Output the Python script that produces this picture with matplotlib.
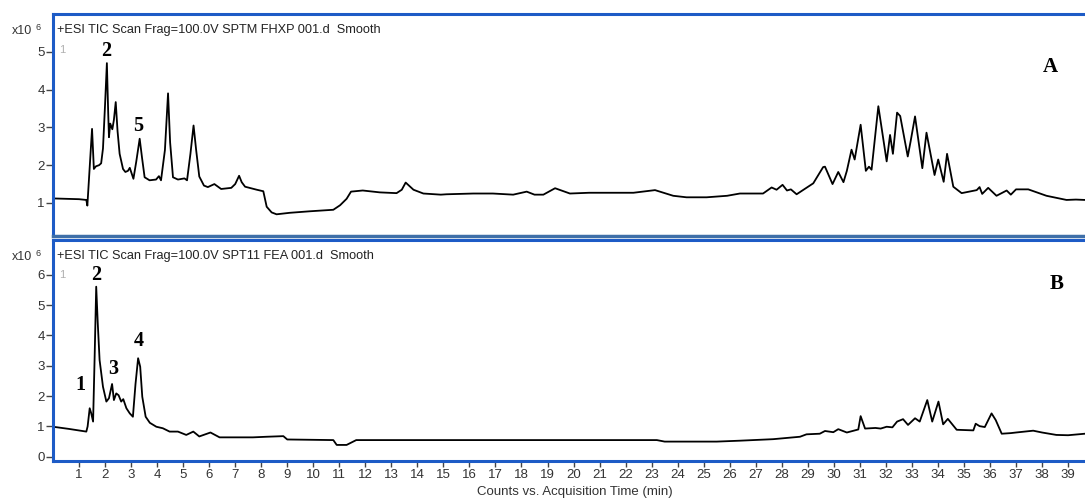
import numpy as np
import matplotlib
matplotlib.use('Agg')
import matplotlib.pyplot as plt

# chromatogram A (SPTM FHXP), time in min, counts in 1e6
time_a = [0.0, 0.5, 1.0, 1.28, 1.32, 1.38, 1.45, 1.50, 1.57, 1.65, 1.77, 1.85, 1.92, 2.0, 2.07,
          2.12, 2.15, 2.20, 2.28, 2.34, 2.41, 2.48, 2.56, 2.69, 2.78, 2.88, 2.95, 3.09, 3.2, 3.33,
          3.42, 3.52, 3.71, 3.96, 4.07, 4.15, 4.30, 4.42, 4.50, 4.61, 4.80, 5.05, 5.15, 5.28, 5.40,
          5.50, 5.62, 5.80, 5.95, 6.2, 6.46, 6.85, 7.0, 7.15, 7.25, 7.38, 7.83, 8.08, 8.21, 8.40,
          8.59, 9.1, 9.87, 10.77, 11.03, 11.28, 11.45, 11.9, 12.56, 13.2, 13.40, 13.55, 13.85, 14.23,
          14.9, 15.12, 16.15, 16.9, 17.68, 18.2, 18.5, 18.84, 19.29, 19.86, 20.6, 21.52, 22.3, 23.13,
          23.83, 24.34, 25.11, 25.9, 26.39, 27.28, 27.61, 27.80, 28.03, 28.2, 28.35, 28.57, 28.9,
          29.21, 29.59, 29.66, 29.95, 30.17, 30.37, 30.5, 30.68, 30.80, 31.03, 31.23, 31.35, 31.45,
          31.71, 32.03, 32.16, 32.27, 32.43, 32.55, 32.84, 32.95, 33.12, 33.40, 33.56, 33.87, 34.01,
          34.22, 34.35, 34.59, 34.91, 35.2, 35.49, 35.6, 35.7, 35.93, 36.25, 36.64, 36.8, 37.0,
          37.47, 38.17, 38.94, 39.3, 39.65]
counts_a = [1.12, 1.11, 1.10, 1.08, 0.93, 1.6, 2.4, 2.96, 1.90, 1.97, 2.00, 2.05, 2.44, 3.6, 4.70,
            3.4, 2.74, 3.1, 2.95, 3.2, 3.67, 2.9, 2.30, 1.90, 1.82, 1.85, 1.93, 1.64, 2.1, 2.70,
            2.2, 1.68, 1.60, 1.62, 1.71, 1.60, 2.4, 3.90, 2.6, 1.68, 1.62, 1.65, 1.60, 2.3, 3.05,
            2.4, 1.7, 1.46, 1.42, 1.50, 1.37, 1.40, 1.50, 1.72, 1.55, 1.43, 1.35, 1.31, 0.90, 0.75,
            0.70, 0.74, 0.78, 0.82, 0.94, 1.11, 1.30, 1.33, 1.28, 1.26, 1.35, 1.54, 1.35, 1.25,
            1.22, 1.23, 1.25, 1.25, 1.22, 1.30, 1.22, 1.22, 1.39, 1.25, 1.27, 1.27, 1.27, 1.34,
            1.19, 1.15, 1.15, 1.19, 1.25, 1.25, 1.41, 1.35, 1.48, 1.33, 1.36, 1.23, 1.38,
            1.52, 1.95, 1.96, 1.50, 1.82, 1.55, 1.85, 2.41, 2.15, 3.07, 1.85, 1.96, 1.88,
            3.56, 2.10, 2.80, 2.30, 3.39, 3.30, 2.23, 2.63, 3.29, 1.92, 2.86, 1.74, 2.15,
            1.56, 2.30, 1.43, 1.26, 1.30, 1.34, 1.42, 1.24, 1.40, 1.19, 1.33, 1.22, 1.36,
            1.36, 1.19, 1.08, 1.09, 1.08]

# chromatogram B (SPT11 FEA)
time_b = [0.0, 0.6, 1.28, 1.33, 1.41, 1.47, 1.54, 1.60, 1.66, 1.72, 1.79, 1.92, 2.05, 2.15, 2.27,
          2.34, 2.43, 2.52, 2.62, 2.70, 2.82, 2.95, 3.07, 3.17, 3.27, 3.35, 3.43, 3.56, 3.72, 3.97,
          4.22, 4.48, 4.8, 5.12, 5.39, 5.62, 6.05, 6.40, 7.68, 8.21, 8.85, 9.0, 10.77, 10.9, 11.28,
          11.65, 13.33, 20.0, 23.2, 23.5, 25.5, 26.39, 27.67, 28.7, 28.95, 29.46, 29.66, 29.98,
          30.17, 30.5, 30.94, 31.03, 31.2, 31.6, 31.8, 32.03, 32.25, 32.43, 32.66, 32.85, 33.12,
          33.3, 33.59, 33.78, 34.02, 34.2, 34.38, 34.72, 35.36, 35.45, 35.6, 35.8, 36.06, 36.22,
          36.45, 36.8, 37.0, 37.66, 38.0, 38.55, 39.0, 39.65]
counts_b = [0.99, 0.92, 0.83, 1.0, 1.60, 1.43, 1.16, 3.3, 5.61, 4.4, 3.19, 2.31, 1.82, 1.93, 2.40,
            1.87, 2.09, 2.03, 1.82, 1.90, 1.60, 1.43, 1.32, 2.4, 3.25, 2.97, 1.98, 1.32, 1.12, 0.99,
            0.94, 0.83, 0.83, 0.72, 0.83, 0.67, 0.80, 0.64, 0.64, 0.66, 0.68, 0.57, 0.55, 0.39, 0.39,
            0.55, 0.55, 0.55, 0.55, 0.50, 0.50, 0.53, 0.58, 0.66, 0.74, 0.76, 0.85, 0.81,
            0.91, 0.80, 0.90, 1.34, 0.93, 0.95, 0.93, 0.99, 0.97, 1.16, 1.24, 1.05, 1.27,
            1.16, 1.87, 1.16, 1.82, 1.07, 1.25, 0.89, 0.87, 1.09, 1.01, 0.98, 1.43, 1.21,
            0.76, 0.78, 0.80, 0.86, 0.80, 0.72, 0.71, 0.76]

titles = ['+ESI TIC Scan Frag=100.0V SPTM FHXP 001.d  Smooth',
          '+ESI TIC Scan Frag=100.0V SPT11 FEA 001.d  Smooth']
panel_labels = [('A', 38.3, 4.6), ('B', 38.56, 5.70)]
peaks_a = [('2', 2.04, 5.03), ('5', 3.27, 3.04)]
peaks_b = [('1', 1.05, 2.38), ('2', 1.66, 5.98), ('3', 2.33, 2.91), ('4', 3.30, 3.82)]

W, H = 1085, 499
blue = '#1d5bc6'
tickc = '#444444'
sans = 'Liberation Sans'
serif = 'Liberation Serif'

fig = plt.figure(figsize=(W / 100, H / 100), dpi=100)

def frame(top, bottom):
    return [53 / W, (H - bottom) / H, (W - 53) / W, (bottom - top) / H]

ax1 = fig.add_axes(frame(14, 236))
ax2 = fig.add_axes(frame(240, 461))

for ax, t, c, ylim, yt, title, lab, peaks in [
        (ax1, time_a, counts_a, (0.126, 6.0), [1, 2, 3, 4, 5], titles[0], panel_labels[0], peaks_a),
        (ax2, time_b, counts_b, (-0.14, 7.15), [0, 1, 2, 3, 4, 5, 6], titles[1], panel_labels[1], peaks_b)]:
    ax.plot(t, c, color='black', lw=1.3)
    ax.set_xlim(0, 39.65)
    ax.set_ylim(*ylim)
    ax.set_yticks(yt)
    ax.tick_params(axis='y', direction='out', length=5, width=1, color=tickc,
                   labelcolor='#333333', labelsize=9.5, pad=1)
    for lbl in ax.get_yticklabels():
        lbl.set_family(sans)
    ax.spines['right'].set_visible(False)
    for s in ['top', 'left', 'bottom']:
        ax.spines[s].set_color(blue)
        ax.spines[s].set_linewidth(2.2)
    ax.text(0.004, 0.928, title, transform=ax.transAxes, fontsize=9.2, family=sans,
            color='#222222', va='center', ha='left')
    ax.text(0.006, 0.84, '1', transform=ax.transAxes, fontsize=8, family=sans,
            color='#b0b0b0', va='center')
    ax.text(lab[1], lab[2], lab[0], fontsize=15, family=serif, fontweight='bold',
            ha='center', va='center')
    for name, px, py in peaks:
        ax.text(px, py, name, fontsize=14.5, family=serif, fontweight='bold',
                ha='center', va='center')

ax1.set_xticks([])
ax1.spines['bottom'].set_color('#3f6fa8')
ax1.spines['bottom'].set_linewidth(2.5)

ax2.set_xticks(range(1, 40))
ax2.tick_params(axis='x', direction='out', length=4, width=1, color=tickc,
                labelcolor='#333333', labelsize=9.5, pad=2)
for lbl in ax2.get_xticklabels():
    lbl.set_family(sans)

for ytop in (31, 257):
    fig.text(12 / W, 1 - ytop / H, 'x10', fontsize=9, family=sans, color='#333333', va='center')
    fig.text(35 / W, 1 - (ytop - 3) / H, '6', fontsize=6.5, family=sans, color='#333333', va='center')

fig.text(575 / W, 1 - 492 / H, 'Counts vs. Acquisition Time (min)', fontsize=9.5, family=sans,
         color='#333333', ha='center', va='center')

fig.savefig('out.png', dpi=100)
